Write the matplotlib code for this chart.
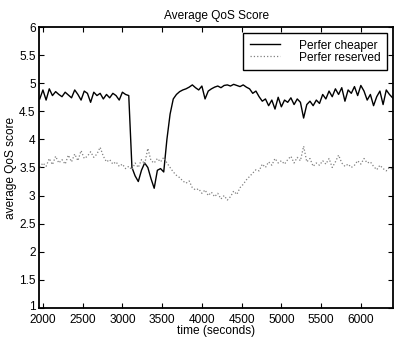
import numpy as np
import matplotlib; matplotlib.use('Agg')
import matplotlib.pyplot as plt
import matplotlib.transforms as mtrans

plt.rcParams.update({
    'font.family': ['Liberation Sans', 'DejaVu Sans'], 'font.size': 8.6,
    'xtick.direction': 'in', 'ytick.direction': 'in',
    'xtick.top': True, 'ytick.right': True,
    'xtick.major.size': 3.5, 'ytick.major.size': 3.5,
    'axes.linewidth': 1.3,
})

# sampling times (seconds)
time = np.arange(1960, 6401, 40)

cheaper = [4.72, 4.88, 4.70, 4.90, 4.78, 4.85, 4.80, 4.76, 4.84, 4.79,
           4.74, 4.88, 4.80, 4.70, 4.86, 4.82, 4.66, 4.84, 4.78, 4.82,
           4.72, 4.80, 4.74, 4.82, 4.78, 4.70, 4.84, 4.80, 4.78, 3.50,
           3.35, 3.25, 3.45, 3.58, 3.50, 3.30, 3.13, 3.45, 3.48, 3.42,
           4.00, 4.45, 4.72, 4.80, 4.85, 4.88, 4.90, 4.93, 4.97, 4.92,
           4.88, 4.95, 4.72, 4.86, 4.90, 4.93, 4.95, 4.92, 4.96, 4.97,
           4.95, 4.98, 4.96, 4.94, 4.97, 4.93, 4.90, 4.82, 4.86, 4.76,
           4.68, 4.72, 4.60, 4.70, 4.54, 4.75, 4.58, 4.70, 4.66, 4.74,
           4.62, 4.72, 4.66, 4.38, 4.62, 4.68, 4.60, 4.70, 4.64, 4.80,
           4.72, 4.86, 4.76, 4.90, 4.80, 4.92, 4.68, 4.88, 4.82, 4.94,
           4.78, 4.96, 4.86, 4.70, 4.80, 4.60, 4.76, 4.86, 4.62, 4.88,
           4.80, 4.74]

reserved = [3.50, 3.58, 3.52, 3.66, 3.55, 3.70, 3.58, 3.64, 3.56, 3.72,
            3.60, 3.74, 3.62, 3.80, 3.66, 3.70, 3.78, 3.68, 3.74, 3.86,
            3.70, 3.60, 3.64, 3.56, 3.60, 3.52, 3.56, 3.48, 3.52, 3.46,
            3.58, 3.50, 3.64, 3.56, 3.84, 3.62, 3.58, 3.66, 3.60, 3.68,
            3.58, 3.50, 3.42, 3.36, 3.32, 3.26, 3.22, 3.26, 3.14, 3.10,
            3.12, 3.04, 3.10, 3.00, 3.06, 2.98, 3.04, 2.94, 3.00, 2.92,
            2.98, 3.08, 3.02, 3.14, 3.20, 3.28, 3.34, 3.40, 3.46, 3.44,
            3.56, 3.50, 3.60, 3.54, 3.66, 3.58, 3.62, 3.56, 3.64, 3.70,
            3.58, 3.68, 3.62, 3.88, 3.60, 3.66, 3.52, 3.58, 3.54, 3.62,
            3.56, 3.66, 3.50, 3.60, 3.72, 3.58, 3.52, 3.56, 3.50, 3.54,
            3.62, 3.56, 3.66, 3.58, 3.60, 3.52, 3.46, 3.54, 3.48, 3.44,
            3.50, 3.46]

xticks = [2000, 2500, 3000, 3500, 4000, 4500, 5000, 5500, 6000]
yticks = [1, 1.5, 2, 2.5, 3, 3.5, 4, 4.5, 5, 5.5, 6]
ytick_labels = ['1', '1.5', '2', '2.5', '3', '3.5', '4', '4.5', '5', '5.5', '6']

fig = plt.figure(figsize=(3.95, 3.38), dpi=100)
ax = fig.add_axes([0.099, 0.089, 0.896, 0.831])

ax.plot(time, cheaper, color='black', lw=1.0, label='Perfer cheaper')
ax.plot(time, reserved, color='#808080', lw=0.9, ls=':', label='Perfer reserved')

ax.set_xlim(1952, 6405)
ax.set_ylim(1, 6)
ax.set_xticks(xticks)
ax.set_yticks(yticks)
ax.set_yticklabels(ytick_labels)
ax.tick_params(axis='x', pad=4.5)
ax.tick_params(axis='y', pad=2.5)

# nudge the bottom y label up a little so it clears "2000"
lab1 = ax.get_yticklabels()[0]
lab1.set_transform(lab1.get_transform() + mtrans.ScaledTranslation(0, 2 / 100, fig.dpi_scale_trans))

ax.set_title('Average QoS Score', fontsize=8.6, pad=6)
ax.set_xlabel('time (seconds)', labelpad=-0.6)
ax.set_ylabel('average QoS score', labelpad=1.5)

leg = ax.legend(loc='upper right', fancybox=False, edgecolor='black', framealpha=1,
                handlelength=2.5, handletextpad=1.6, labelspacing=0.0,
                borderpad=0.55, borderaxespad=0.5)
leg.get_frame().set_linewidth(1.0)

fig.savefig('out.png', dpi=100)
